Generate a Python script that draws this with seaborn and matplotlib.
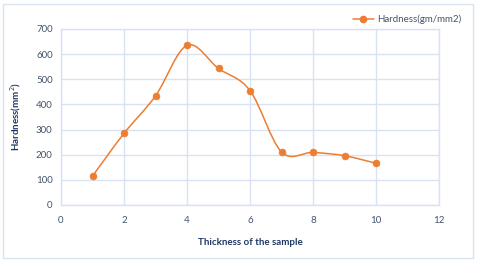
import numpy as np
import pandas as pd
import seaborn as sns
import matplotlib
matplotlib.use('Agg')
import matplotlib.pyplot as plt
from matplotlib.path import Path
from matplotlib.patches import PathPatch, Rectangle
from matplotlib.lines import Line2D

# values
thickness = [1, 2, 3, 4, 5, 6, 7, 8, 9, 10]
hardness = [115, 285, 434, 635, 543, 455, 211, 209, 196, 166]
x_ticks = [0, 2, 4, 6, 8, 10, 12]
y_ticks = [0, 100, 200, 300, 400, 500, 600, 700]

orange = '#ed7d31'
grid_col = '#d9e2f3'
tick_col = '#44546a'
label_col = '#1f3864'

sns.set_style('white')
plt.rcParams['font.family'] = ['Lato', 'DejaVu Sans']

df = pd.DataFrame({'thickness': thickness, 'hardness': hardness})

fig = plt.figure(figsize=(4.8, 2.62), dpi=100)
ax = fig.add_axes([61 / 480, 1 - 205 / 262, 378 / 480, 176 / 262])

# smoothed line like excel: catmull-rom style bezier through the points
pts = df[['thickness', 'hardness']].to_numpy(dtype=float)
verts = [pts[0]]
codes = [Path.MOVETO]
n = len(pts)
for i in range(n - 1):
    p0 = pts[max(i - 1, 0)]
    p1 = pts[i]
    p2 = pts[i + 1]
    p3 = pts[min(i + 2, n - 1)]
    c1 = p1 + (p2 - p0) / 6
    c2 = p2 - (p3 - p1) / 6
    verts += [c1, c2, p2]
    codes += [Path.CURVE4] * 3
ax.add_patch(PathPatch(Path(verts, codes), facecolor='none', edgecolor=orange,
                       lw=1.1, zorder=3))

sns.scatterplot(data=df, x='thickness', y='hardness', ax=ax, color=orange,
                s=24, edgecolor=orange, linewidth=0.5, zorder=4, legend=False)

ax.set_xlim(0, 12)
ax.set_ylim(0, 700)
ax.set_xticks(x_ticks)
ax.set_yticks(y_ticks)
ax.grid(True, color=grid_col, lw=1)
ax.set_axisbelow(True)
for sp in ax.spines.values():
    sp.set_color(grid_col)
    sp.set_linewidth(1)
ax.tick_params(axis='both', length=0, labelsize=7, labelcolor=tick_col)
ax.tick_params(axis='x', pad=8)
ax.tick_params(axis='y', pad=6)

ax.set_xlabel('Thickness of the sample', fontsize=7, fontweight='bold', color=label_col)
ax.xaxis.set_label_coords(0.5, -0.19)
ax.set_ylabel('Hardness(mm$^2$)', fontsize=7, fontweight='bold', color=label_col)
ax.yaxis.set_label_coords(-0.1, 0.5)

handle = Line2D([], [], color=orange, lw=1.1, marker='o', markersize=4.5)
ax.legend([handle], ['Hardness(gm/mm2)'], loc='upper right',
          bbox_to_anchor=(470 / 480, 1 - 6 / 262), bbox_transform=fig.transFigure,
          frameon=False, fontsize=7, handlelength=2.2, handletextpad=0.3,
          labelcolor=tick_col)

fig.patches.append(Rectangle((3 / 480, 4 / 262), 470 / 480, 254 / 262,
                             transform=fig.transFigure, fill=False,
                             edgecolor=grid_col, lw=1))

fig.savefig('out.png', dpi=100)
